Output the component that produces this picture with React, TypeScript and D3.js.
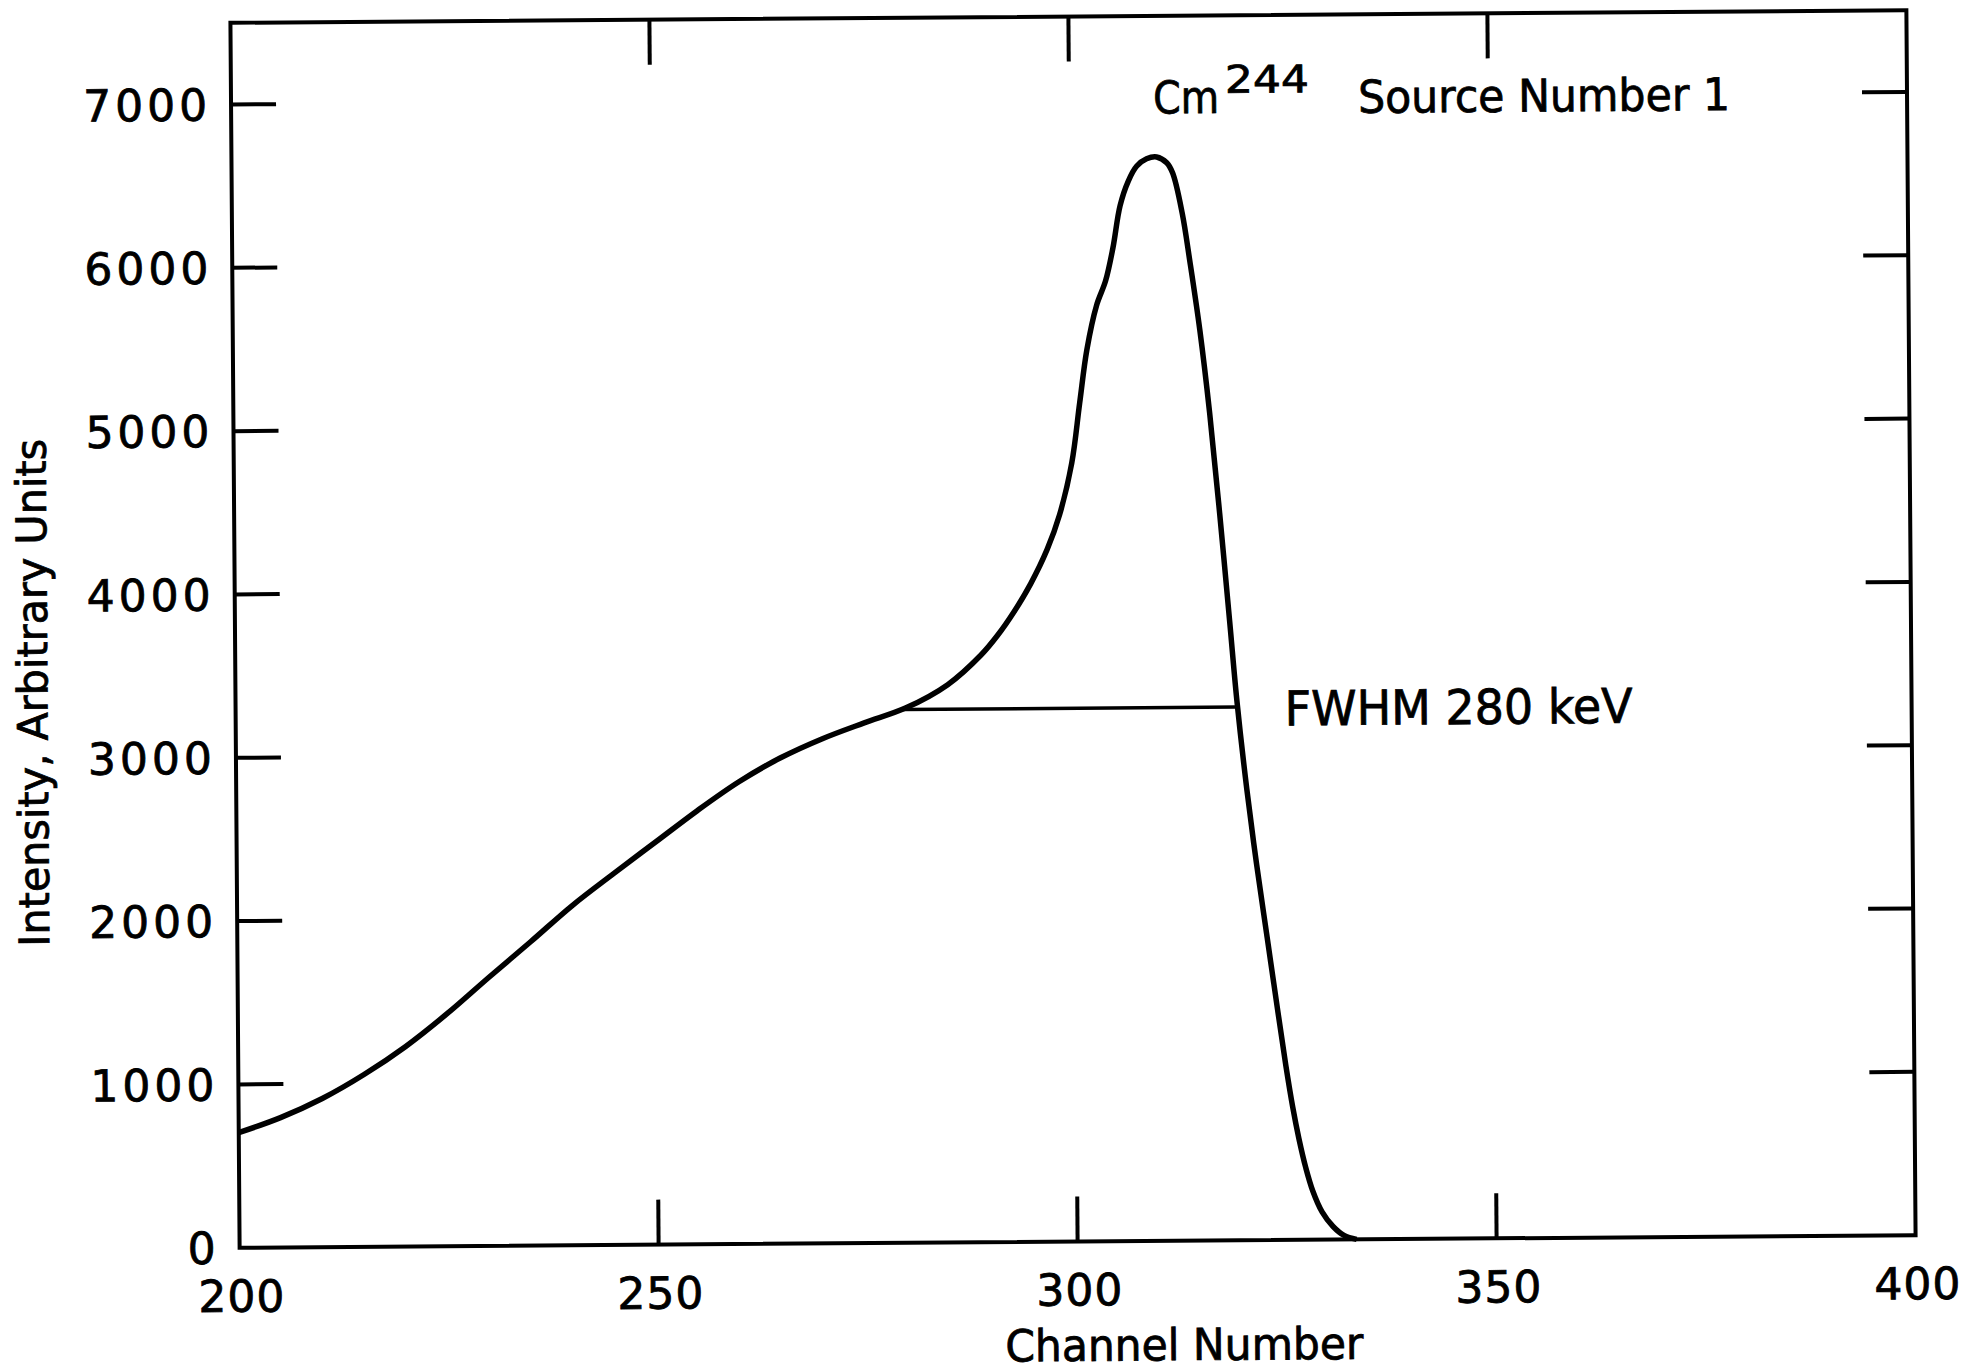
import React from 'react';
import * as d3 from 'd3';

// Spectrum (channel, intensity)
const channels = [
  200, 205, 210, 215, 220, 225, 230, 235, 240, 245, 250, 255, 260, 265, 270, 275, 280, 285,
  289, 291, 293, 295, 297, 298.5, 300.0, 301.0, 301.9, 303.1, 304.2, 305.1, 306.0, 307.0,
  308.0, 309.2, 310.4, 311.6, 312.3, 313.4, 314.3, 315.4, 316.5, 317.6, 318.7, 319.5, 320.6,
  321.7, 322.9, 324.1, 325.0, 325.8, 326.5, 327.3, 328.1, 329.2, 330.5, 331.8, 333.3,
];
const intensity = [
  705, 795, 910, 1055, 1225, 1425, 1645, 1860, 2080, 2275, 2465, 2655, 2830, 2975, 3090, 3185, 3275, 3415,
  3595, 3715, 3860, 4030, 4240, 4450, 4766, 5134, 5458, 5730, 5880, 6080, 6340, 6490,
  6580, 6625, 6636, 6600, 6537, 6292, 5986, 5575, 5066, 4453, 3790, 3300, 2760,
  2300, 1850, 1400, 1070, 810, 620, 440, 300, 170, 80, 25, 0,
];

const xTicks = [200, 250, 300, 350, 400];
const yTicks = [0, 1000, 2000, 3000, 4000, 5000, 6000, 7000];
const fwhmChannels = [279.6, 319.5];
const fwhmLevel = 3265;

const W = 1970;
const H = 1371;
const box = { left: 235, right: 1911, top: 16.5, bottom: 1241.5 };
const tickLen = 45;
const font = "'DejaVu Sans', sans-serif";

export default function App() {
  const x = d3.scaleLinear().domain([200, 400]).range([box.left, box.right]);
  const y = d3.scaleLinear().domain([0, 7500]).range([box.bottom, box.top]);

  const pts = channels.map((c, i) => [c, intensity[i]] as [number, number]);
  const line = d3
    .line<[number, number]>()
    .x((d) => x(d[0]))
    .y((d) => Math.min(y(d[1]), box.bottom))
    .curve(d3.curveCatmullRom.alpha(0.5));

  const inner = xTicks.slice(1, -1);
  const sideTicks = yTicks.slice(1);

  return (
    <svg
      width={W}
      height={H}
      style={{ position: 'absolute', left: 0, top: 0, background: '#fff' }}
    >
      <rect width={W} height={H} fill="#fff" />
      {/* the scanned figure sits slightly tilted */}
      <g transform="rotate(-0.43, 1073, 629)" fill="#000" fontFamily={font}>
        <rect
          x={box.left}
          y={box.top}
          width={box.right - box.left}
          height={box.bottom - box.top}
          fill="none"
          stroke="#000"
          strokeWidth={4}
        />
        {sideTicks.map((v) => (
          <g key={'y' + v} stroke="#000" strokeWidth={4}>
            <line x1={box.left} x2={box.left + tickLen} y1={y(v)} y2={y(v)} />
            <line x1={box.right} x2={box.right - tickLen} y1={y(v)} y2={y(v)} />
          </g>
        ))}
        {inner.map((v) => (
          <g key={'x' + v} stroke="#000" strokeWidth={4}>
            <line x1={x(v)} x2={x(v)} y1={box.bottom} y2={box.bottom - tickLen} />
            <line x1={x(v)} x2={x(v)} y1={box.top} y2={box.top + tickLen} />
          </g>
        ))}
        <g stroke="#000" strokeWidth={0.8}>
          {yTicks.map((v) => (
            <text
              key={'yl' + v}
              x={box.left - 20}
              y={y(v)}
              dy="0.36em"
              textAnchor="end"
              fontSize={44}
              letterSpacing={4}
            >
              {v}
            </text>
          ))}
          {xTicks.map((v) => (
            <text
              key={'xl' + v}
              x={x(v) + 2}
              y={box.bottom + 64}
              textAnchor="middle"
              fontSize={44}
              letterSpacing={1}
            >
              {v}
            </text>
          ))}
          <text
            x={1179}
            y={1361}
            textAnchor="middle"
            fontSize={44}
            textLength={358}
            lengthAdjust="spacingAndGlyphs"
          >
            Channel Number
          </text>
          <text
            transform="translate(47, 685) rotate(-90)"
            textAnchor="middle"
            fontSize={42}
            textLength={508}
            lengthAdjust="spacingAndGlyphs"
          >
            Intensity, Arbitrary Units
          </text>
          <text x={1284} y={727} fontSize={48} textLength={348} lengthAdjust="spacingAndGlyphs">
            FWHM 280 keV
          </text>
          <text x={1157} y={114} fontSize={45} textLength={66} lengthAdjust="spacingAndGlyphs">
            Cm
          </text>
          <text x={1229} y={94} fontSize={38} textLength={84} lengthAdjust="spacingAndGlyphs">
            244
          </text>
          <text x={1362} y={115} fontSize={45} textLength={372} lengthAdjust="spacingAndGlyphs">
            Source Number 1
          </text>
        </g>
        <path d={line(pts) ?? ''} fill="none" stroke="#000" strokeWidth={5.5} strokeLinejoin="round" />
        <line
          x1={x(fwhmChannels[0])}
          x2={x(fwhmChannels[1])}
          y1={y(fwhmLevel)}
          y2={y(fwhmLevel)}
          stroke="#000"
          strokeWidth={3.5}
        />
      </g>
    </svg>
  );
}
